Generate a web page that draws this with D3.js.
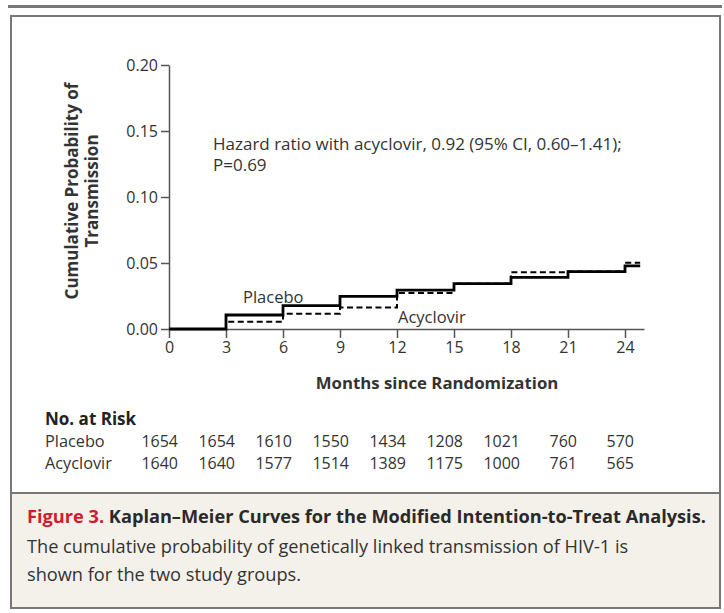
<!DOCTYPE html>
<html>
<head>
<meta charset="utf-8">
<script src="https://cdn.jsdelivr.net/npm/d3@7"></script>
<style>
  body { margin: 0; background: #fff; }
  svg { display: block; font-family: "Open Sans", sans-serif; }
</style>
</head>
<body>
<div id="chart"></div>
<script>
// step values, month -> cumulative probability
const placeboTimes = [0, 3, 6, 9, 12, 15, 18, 21, 24, 24.8];
const placeboProb = [0, 0.0106, 0.0177, 0.0247, 0.0295, 0.0343, 0.0391, 0.0434, 0.0478, 0.0478];
const acycTimes = [0, 3, 6, 9, 12, 15, 18, 21, 24, 24.8];
const acycProb = [0, 0.0055, 0.0116, 0.0163, 0.0273, 0.0343, 0.0429, 0.0436, 0.0502, 0.0502];

const xTicks = [0, 3, 6, 9, 12, 15, 18, 21, 24];
const yTicks = [0, 0.05, 0.10, 0.15, 0.20];

const riskGroups = ['Placebo', 'Acyclovir'];
const placeboRisk = [1654, 1654, 1610, 1550, 1434, 1208, 1021, 760, 570];
const acycRisk = [1640, 1640, 1577, 1514, 1389, 1175, 1000, 761, 565];

const width = 724, height = 613;
const textColor = '#333';

const svg = d3.select('#chart').append('svg')
  .attr('width', width)
  .attr('height', height);

// frame
svg.append('rect').attr('x', 8).attr('y', 5).attr('width', 714).attr('height', 3).attr('fill', '#777');
svg.append('rect').attr('x', 11).attr('y', 493).attr('width', 709).attr('height', 115)
  .attr('fill', '#f4f1eb');
svg.append('line').attr('x1', 11).attr('x2', 720).attr('y1', 493).attr('y2', 493)
  .attr('stroke', '#777').attr('stroke-width', 2);
svg.append('rect').attr('x', 11).attr('y', 16).attr('width', 709).attr('height', 592)
  .attr('fill', 'none').attr('stroke', '#777').attr('stroke-width', 2);

const x = d3.scaleLinear().domain([0, 25]).range([169, 644]);
const y = d3.scaleLinear().domain([0, 0.2]).range([329, 65]);

// axes
const yAxis = svg.append('g')
  .attr('transform', `translate(${x(0)},0)`)
  .call(d3.axisLeft(y).tickValues(yTicks).tickFormat(d3.format('.2f')).tickSize(8).tickSizeOuter(0).tickPadding(3));
const xAxis = svg.append('g')
  .attr('transform', `translate(0,${y(0)})`)
  .call(d3.axisBottom(x).tickValues(xTicks).tickSize(9).tickSizeOuter(0).tickPadding(4));

[xAxis, yAxis].forEach(g => {
  g.select('.domain').attr('stroke', '#555').attr('stroke-width', 1.5);
  g.selectAll('.tick line').attr('stroke', '#555').attr('stroke-width', 1.5);
  g.selectAll('.tick text').attr('fill', textColor).style('font-size', '16px')
    .style('font-family', '"Open Sans", sans-serif');
});

// curves
const line = d3.line()
  .x(d => x(d[0]))
  .y(d => y(d[1]))
  .curve(d3.curveStepAfter);

svg.append('path')
  .datum(d3.zip(acycTimes, acycProb))
  .attr('d', line)
  .attr('fill', 'none')
  .attr('stroke', '#000')
  .attr('stroke-width', 2)
  .attr('stroke-dasharray', '6,3.5');

svg.append('path')
  .datum(d3.zip(placeboTimes, placeboProb))
  .attr('d', line)
  .attr('fill', 'none')
  .attr('stroke', '#000')
  .attr('stroke-width', 2.8);

// labels in plot
svg.append('text').attr('x', 243).attr('y', 303).attr('fill', textColor)
  .style('font-size', '16.5px').text('Placebo');
svg.append('text').attr('x', 398).attr('y', 323).attr('fill', textColor)
  .style('font-size', '16.5px').text('Acyclovir');

const hr = svg.append('text').attr('x', 213).attr('y', 150).attr('fill', textColor)
  .style('font-size', '17px');
hr.append('tspan').attr('x', 213).text('Hazard ratio with acyclovir, 0.92 (95% CI, 0.60–1.41);');
hr.append('tspan').attr('x', 213).attr('dy', 21).text('P=0.69');

// axis titles
svg.append('text')
  .attr('x', 437).attr('y', 389)
  .attr('text-anchor', 'middle')
  .attr('fill', textColor)
  .style('font-size', '16.8px').style('font-weight', 'bold')
  .text('Months since Randomization');

const yt = svg.append('text')
  .attr('transform', 'translate(78,191) rotate(-90)')
  .attr('text-anchor', 'middle')
  .attr('fill', textColor)
  .style('font-size', '17px').style('font-weight', 'bold');
yt.append('tspan').attr('x', 0).attr('y', 0).text('Cumulative Probability of');
yt.append('tspan').attr('x', 0).attr('y', 20).text('Transmission');

// number at risk table
svg.append('text').attr('x', 45).attr('y', 425).attr('fill', '#222')
  .style('font-size', '17px').style('font-weight', 'bold').text('No. at Risk');

const riskRows = [placeboRisk, acycRisk];
riskRows.forEach((row, i) => {
  const ry = 447 + i * 22;
  svg.append('text').attr('x', 45).attr('y', ry).attr('fill', textColor)
    .style('font-size', '16.3px').text(riskGroups[i]);
  svg.selectAll(null).data(row).enter().append('text')
    .attr('x', (d, j) => x(xTicks[j]) + 9)
    .attr('y', ry)
    .attr('text-anchor', 'end')
    .attr('fill', textColor)
    .style('font-size', '16px')
    .text(d => d);
});

// caption
const cap = svg.append('text').attr('x', 27).attr('y', 523).style('font-size', '18.2px')
  .style('font-weight', 'bold');
cap.append('tspan').attr('fill', '#d01c2f').text('Figure 3. ');
cap.append('tspan').attr('fill', '#2a2a2a').text('Kaplan–Meier Curves for the Modified Intention-to-Treat Analysis.');

svg.append('text').attr('x', 27).attr('y', 553).attr('fill', textColor).style('font-size', '18.2px')
  .text('The cumulative probability of genetically linked transmission of HIV-1 is');
svg.append('text').attr('x', 27).attr('y', 581).attr('fill', textColor).style('font-size', '18.2px')
  .text('shown for the two study groups.');
</script>
</body>
</html>
